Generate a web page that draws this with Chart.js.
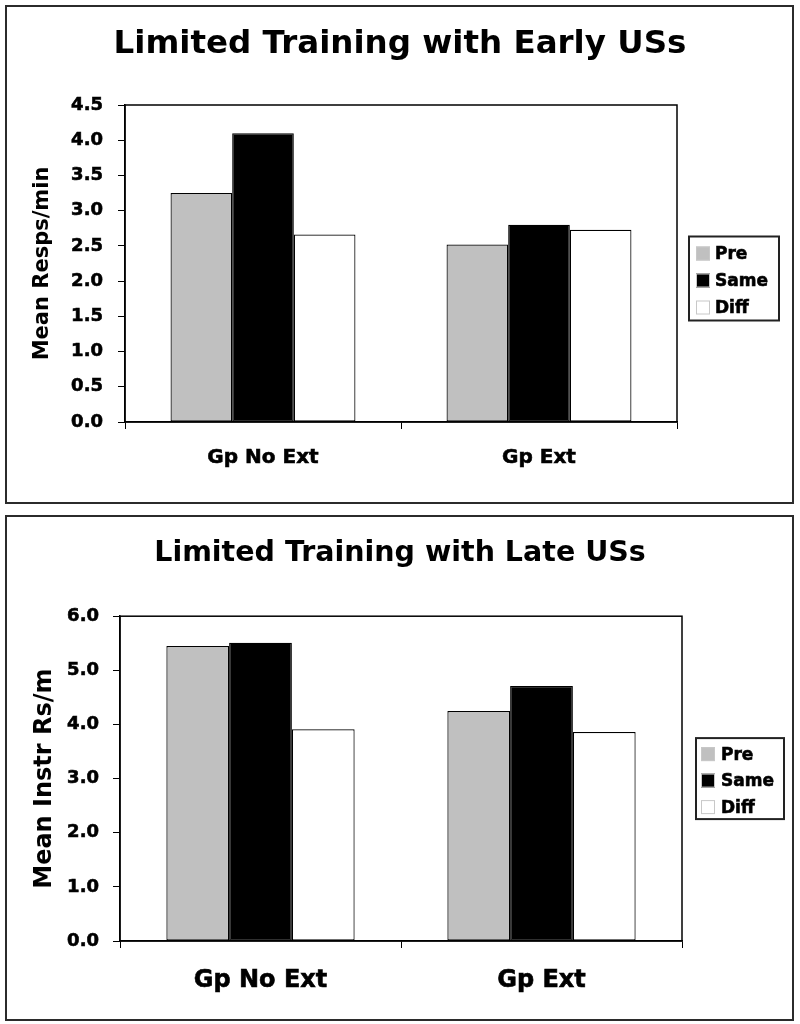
<!DOCTYPE html>
<html>
<head>
<meta charset="utf-8">
<script src="https://cdn.jsdelivr.net/npm/chart.js@4.4.1/dist/chart.umd.min.js"></script>
<style>
  html, body { margin: 0; padding: 0; background: #fff; }
  body { width: 800px; height: 1024px; position: relative; overflow: hidden; }
  canvas { position: absolute; left: 0; }
  #early { top: 0; }
  #late { top: 510px; }
  .panel { position: absolute; border: 2px solid #2b2b2b; box-sizing: border-box; pointer-events: none; }
  #p1 { left: 5px; top: 5px; width: 789px; height: 499px; }
  #p2 { left: 5px; top: 515px; width: 789px; height: 506px; }
</style>
</head>
<body>
<canvas id="early" width="800" height="510"></canvas>
<canvas id="late" width="800" height="514"></canvas>
<div class="panel" id="p1"></div>
<div class="panel" id="p2"></div>
<script>
// data
const groups = ['Gp No Ext', 'Gp Ext'];
const seriesNames = ['Pre', 'Same', 'Diff'];
const seriesColors = ['#c0c0c0', '#000000', '#ffffff'];

const earlyPre  = [3.25, 2.52];
const earlySame = [4.10, 2.80];
const earlyDiff = [2.66, 2.73];

const latePre  = [5.45, 4.25];
const lateSame = [5.51, 4.71];
const lateDiff = [3.91, 3.86];

const FONT = '"DejaVu Sans", Verdana, sans-serif';

// frame around the plot area (excel style)
const plotFrame = {
    id: 'plotFrame',
    beforeDatasetsDraw(chart) {
        const { ctx, chartArea: a } = chart;
        ctx.save();
        ctx.strokeStyle = '#000';
        ctx.lineWidth = 1.5;
        ctx.strokeRect(a.left, a.top, a.right - a.left, a.bottom - a.top);
        ctx.restore();
    }
};

// boxed legend at the right of the plot
const boxLegend = {
    id: 'boxLegend',
    afterDraw(chart, args, o) {
        const { ctx, chartArea: a } = chart;
        const x = a.right + o.dx;
        const y = (a.top + a.bottom) / 2 + o.dy - o.h / 2;
        ctx.save();
        ctx.strokeStyle = '#222';
        ctx.lineWidth = 2;
        ctx.strokeRect(x, y, o.w, o.h);
        ctx.font = 'bold ' + o.size + 'px ' + FONT;
        ctx.textBaseline = 'middle';
        ctx.textAlign = 'left';
        chart.data.datasets.forEach((ds, i) => {
            const cy = y + o.first + i * o.gap;
            ctx.fillStyle = ds.backgroundColor;
            ctx.fillRect(x + o.sx, cy - 7, 14, 14);
            ctx.strokeStyle = '#c8c8c8';
            ctx.lineWidth = 1;
            ctx.strokeRect(x + o.sx + 0.5, cy - 6.5, 13, 13);
            ctx.fillStyle = '#000';
            ctx.strokeStyle = '#000';
            ctx.lineWidth = 0.6;
            ctx.fillText(ds.label, x + o.tx, cy + 1);
            ctx.strokeText(ds.label, x + o.tx, cy + 1);
        });
        ctx.restore();
    }
};

function makeDatasets(values) {
    return values.map((v, i) => ({
        label: seriesNames[i],
        data: v,
        backgroundColor: seriesColors[i],
        borderColor: '#000',
        borderWidth: 1.2,
        borderSkipped: false,
        categoryPercentage: 0.67,
        barPercentage: 1.0
    }));
}

function makeChart(id, s) {
    return new Chart(document.getElementById(id), {
        type: 'bar',
        data: { labels: groups, datasets: makeDatasets(s.values) },
        options: {
            responsive: false,
            animation: false,
            devicePixelRatio: 1,
            layout: { padding: 0 },
            plugins: {
                legend: { display: false },
                tooltip: { enabled: false },
                title: {
                    display: true,
                    text: s.title,
                    color: '#000',
                    font: { family: FONT, size: s.titleSize, weight: 'bold' },
                    padding: { top: s.titleTop, bottom: s.titleBottom }
                },
                boxLegend: s.legend
            },
            scales: {
                x: {
                    afterFit: sc => { sc.height = s.xHeight; },
                    ticks: {
                        color: '#000',
                        font: { family: FONT, size: s.xSize, weight: 'bold' },
                        padding: s.xPad,
                        textStrokeColor: '#000',
                        textStrokeWidth: 0.6
                    },
                    grid: { drawOnChartArea: false, drawTicks: true, tickLength: 7, tickColor: '#000', offset: true },
                    border: { display: true, color: '#000', width: 1.5 }
                },
                y: {
                    min: 0,
                    max: s.max,
                    afterFit: sc => { sc.width = s.yWidth; },
                    ticks: {
                        stepSize: s.step,
                        callback: v => Number(v).toFixed(1),
                        color: '#000',
                        font: { family: FONT, size: 18, weight: 'bold' },
                        padding: s.yPad,
                        textStrokeColor: '#000',
                        textStrokeWidth: 0.6
                    },
                    grid: { drawOnChartArea: false, drawTicks: true, tickLength: 7, tickColor: '#000' },
                    border: { display: true, color: '#000', width: 1.5 },
                    title: {
                        display: true,
                        text: s.yTitle,
                        color: '#000',
                        font: { family: FONT, size: s.yTitleSize, weight: 'bold' },
                        padding: { top: s.yTitlePad, bottom: 0 }
                    }
                },
                // empty right-hand axis that only reserves the room for the legend
                side: {
                    type: 'linear',
                    position: 'right',
                    afterFit: sc => { sc.width = s.rightRoom; },
                    ticks: { display: false },
                    grid: { display: false },
                    border: { display: false }
                }
            }
        },
        plugins: [plotFrame, boxLegend]
    });
}

makeChart('early', {
    values: [earlyPre, earlySame, earlyDiff],
    title: 'Limited Training with Early USs',
    titleSize: 32.5, titleTop: 25, titleBottom: 41,
    yTitle: 'Mean Resps/min', yTitleSize: 21, yTitlePad: 30,
    max: 4.5, step: 0.5,
    yWidth: 125, yPad: 15,
    xHeight: 88, xSize: 20, xPad: 17,
    rightRoom: 123,
    legend: { dx: 12, dy: 15, w: 90, h: 84, first: 17, gap: 27, sx: 7, tx: 26, size: 17 }
});

makeChart('late', {
    values: [latePre, lateSame, lateDiff],
    title: 'Limited Training with Late USs',
    titleSize: 28.5, titleTop: 26, titleBottom: 46,
    yTitle: 'Mean Instr Rs/m', yTitleSize: 24, yTitlePad: 30,
    max: 6, step: 1,
    yWidth: 120, yPad: 14,
    xHeight: 83, xSize: 24, xPad: 18,
    rightRoom: 118,
    legend: { dx: 14, dy: 0, w: 88, h: 81, first: 16, gap: 26.5, sx: 5, tx: 25, size: 17 }
});
</script>
</body>
</html>
